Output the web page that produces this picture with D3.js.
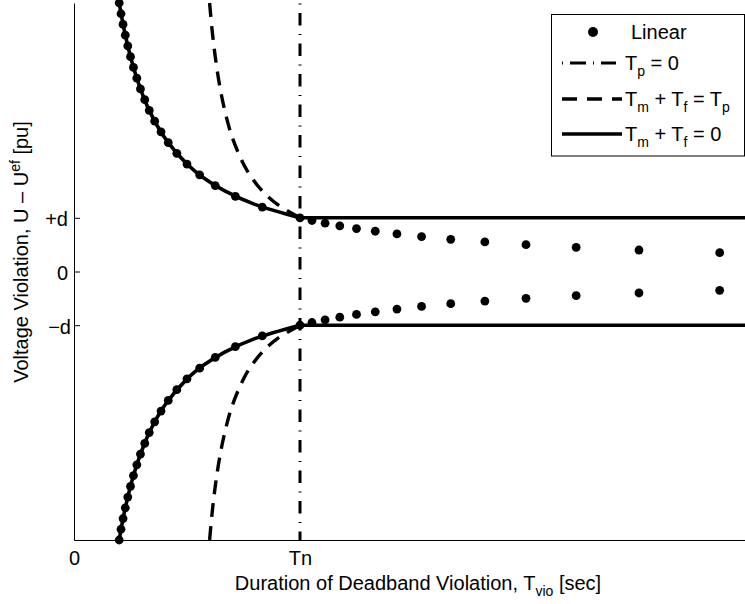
<!DOCTYPE html>
<html>
<head>
<meta charset="utf-8">
<script src="https://cdn.jsdelivr.net/npm/d3@7"></script>
<style>
  html, body { margin: 0; padding: 0; background: #fff; }
  svg { display: block; font-family: "Liberation Sans", Arial, Helvetica, sans-serif; }
</style>
</head>
<body>
<svg id="chart" width="745" height="604"></svg>
<script>
// x in units of Tn, y in units of the deadband d

// Linear response (dots)
const linearX = [0.200, 0.208, 0.217, 0.227, 0.238, 0.250, 0.263, 0.278, 0.294, 0.313,
                 0.333, 0.357, 0.385, 0.417, 0.455, 0.500, 0.556, 0.625, 0.714, 0.833,
                 1.000, 1.053, 1.111, 1.176, 1.250, 1.333, 1.429, 1.538, 1.667, 1.818,
                 2.000, 2.222, 2.500, 2.857];
const linearUpperY = [5.0, 4.8, 4.6, 4.4, 4.2, 4.0, 3.8, 3.6, 3.4, 3.2,
                      3.0, 2.8, 2.6, 2.4, 2.2, 2.0, 1.8, 1.6, 1.4, 1.2,
                      1.0, 0.95, 0.90, 0.85, 0.80, 0.75, 0.70, 0.65, 0.60, 0.55,
                      0.50, 0.45, 0.40, 0.35];
const linearLowerY = [-5.0, -4.8, -4.6, -4.4, -4.2, -4.0, -3.8, -3.6, -3.4, -3.2,
                      -3.0, -2.8, -2.6, -2.4, -2.2, -2.0, -1.8, -1.6, -1.4, -1.2,
                      -1.0, -0.95, -0.90, -0.85, -0.80, -0.75, -0.70, -0.65, -0.60, -0.55,
                      -0.50, -0.45, -0.40, -0.35];

// Tm + Tf = 0 : curved branch up to Tn, then level at +/- d
const solidX = [0.200, 0.222, 0.250, 0.286, 0.333, 0.400, 0.500, 0.571, 0.667, 0.800, 1.000];
const solidUpperY = [5.0, 4.5, 4.0, 3.5, 3.0, 2.5, 2.0, 1.75, 1.5, 1.25, 1.0];
const solidLowerY = [-5.0, -4.5, -4.0, -3.5, -3.0, -2.5, -2.0, -1.75, -1.5, -1.25, -1.0];
const levelX = [1.0, 3.0];
const levelUpperY = [1.0, 1.0];
const levelLowerY = [-1.0, -1.0];

// Tm + Tf = Tp
const dashedX = [0.600, 0.611, 0.625, 0.643, 0.667, 0.700, 0.750, 0.786, 0.833, 0.900, 1.000];
const dashedUpperY = [5.0, 4.5, 4.0, 3.5, 3.0, 2.5, 2.0, 1.75, 1.5, 1.25, 1.0];
const dashedLowerY = [-5.0, -4.5, -4.0, -3.5, -3.0, -2.5, -2.0, -1.75, -1.5, -1.25, -1.0];

// Tp = 0 : vertical at Tn
const tpZeroX = [1.0, 1.0];
const tpZeroY = [-5.0, 5.0];

// Axis ticks
const xTickValues = [0, 1];
const xTickLabels = ["0", "Tn"];
const yTickValues = [1, 0, -1];
const yTickLabels = ["+d", "0", "\u2212d"];

// Legend entries; "_{..}" is a subscript, "^{..}" a superscript
const legendLabels = ["Linear", "T_{p} = 0", "T_{m} + T_{f} = T_{p}", "T_{m} + T_{f} = 0"];
const legendStyles = ["dot", "dashdot", "dash", "solid"];

const FONT = 20;
const SUB = 14;
const svg = d3.select("#chart");

const x = d3.scaleLinear().domain([0, 3]).range([74, 752]);
const y = d3.scaleLinear().domain([-5, 5]).range([540, 3]);

const styles = {
  solid:   { width: 3.6, dash: null },
  dash:    { width: 3.4, dash: "14,9" },
  dashdot: { width: 3.0, dash: "12.5,8.5,1,8.5" }
};

const line = d3.line().x(d => x(d[0])).y(d => y(d[1]));
const smooth = d3.line().x(d => x(d[0])).y(d => y(d[1])).curve(d3.curveCatmullRom.alpha(0.5));
const zip = (a, b) => a.map((v, i) => [v, b[i]]);

const plot = svg.append("g");

function drawPath(gen, pts, style) {
  const s = styles[style];
  const p = plot.append("path")
    .attr("d", gen(pts))
    .attr("fill", "none")
    .attr("stroke", "#000")
    .attr("stroke-width", s.width)
    .attr("stroke-linejoin", "round");
  if (s.dash) p.attr("stroke-dasharray", s.dash);
  return p;
}

// Tp = 0
drawPath(line, zip(tpZeroX, tpZeroY), "dashdot").attr("stroke-dashoffset", 4);

// Tm + Tf = Tp
drawPath(smooth, zip(dashedX, dashedUpperY), "dash");
drawPath(smooth, zip(dashedX, dashedLowerY), "dash");

// Tm + Tf = 0
drawPath(smooth, zip(solidX, solidUpperY), "solid");
drawPath(smooth, zip(solidX, solidLowerY), "solid");
drawPath(line, zip(levelX, levelUpperY), "solid");
drawPath(line, zip(levelX, levelLowerY), "solid");

// Linear dots
const dots = zip(linearX, linearUpperY).concat(zip(linearX, linearLowerY));
plot.selectAll("circle.lin").data(dots).enter().append("circle")
  .attr("class", "lin")
  .attr("cx", d => x(d[0]))
  .attr("cy", d => y(d[1]))
  .attr("r", 4.4)
  .attr("fill", "#000");

// Axes
const yAxis = d3.axisLeft(y)
  .tickValues(yTickValues)
  .tickFormat((d, i) => yTickLabels[i])
  .tickSizeInner(-6).tickSizeOuter(0).tickPadding(6);
const gy = svg.append("g").attr("transform", "translate(74,0)").call(yAxis);

const xAxis = d3.axisBottom(x)
  .tickValues(xTickValues)
  .tickFormat((d, i) => xTickLabels[i])
  .tickSizeInner(-6).tickSizeOuter(0).tickPadding(11);
const gx = svg.append("g").attr("transform", "translate(0,540)").call(xAxis);

[gx, gy].forEach(g => {
  g.select(".domain").attr("stroke", "#000").attr("stroke-width", 1);
  g.selectAll(".tick line").attr("stroke", "#000").attr("stroke-width", 1);
  g.selectAll(".tick text")
    .attr("fill", "#000")
    .attr("font-size", FONT)
    .attr("font-family", "Liberation Sans, Arial, sans-serif");
});
gy.selectAll(".tick text").attr("dy", "0.4em");
gy.selectAll(".tick text").filter(d => d < 0).attr("dx", 3);

// Rich text: "_{..}" lowered and smaller, "^{..}" raised and smaller
function richText(sel, str) {
  const re = /_\{([^}]*)\}|\^\{([^}]*)\}/g;
  const parts = [];
  let last = 0, m;
  while ((m = re.exec(str)) !== null) {
    if (m.index > last) parts.push({ t: str.slice(last, m.index), shift: 0 });
    if (m[1] !== undefined) parts.push({ t: m[1], shift: 6 });
    else parts.push({ t: m[2], shift: -8 });
    last = re.lastIndex;
  }
  if (last < str.length) parts.push({ t: str.slice(last), shift: 0 });
  let cur = 0;
  parts.forEach(p => {
    const ts = sel.append("tspan").text(p.t);
    if (p.shift !== cur) ts.attr("dy", p.shift - cur);
    if (p.shift !== 0) ts.attr("font-size", SUB);
    cur = p.shift;
  });
}

// Axis titles
const xTitle = svg.append("text")
  .attr("x", 418).attr("y", 590)
  .attr("text-anchor", "middle")
  .attr("font-size", FONT).attr("fill", "#000");
richText(xTitle, "Duration of Deadband Violation, T_{vio} [sec]");

const yTitle = svg.append("text")
  .attr("transform", "translate(27.5,252) rotate(-90)")
  .attr("text-anchor", "middle")
  .attr("font-size", FONT).attr("fill", "#000");
richText(yTitle, "Voltage Violation, U \u2013 U^{ef} [pu]");

// Legend
const legend = svg.append("g");
legend.append("rect")
  .attr("x", 551.5).attr("y", 14.5).attr("width", 193).attr("height", 141.5)
  .attr("fill", "#fff").attr("stroke", "#000").attr("stroke-width", 1);
const rowY = [32, 63, 99, 134];
legendLabels.forEach((lab, i) => {
  const cy = rowY[i];
  const st = legendStyles[i];
  if (st === "dot") {
    legend.append("circle").attr("cx", 593).attr("cy", cy).attr("r", 5).attr("fill", "#000");
  } else {
    const s = styles[st];
    const l = legend.append("line")
      .attr("x1", 562).attr("x2", st === "dashdot" ? 616 : 622)
      .attr("y1", cy).attr("y2", cy)
      .attr("stroke", "#000").attr("stroke-width", s.width);
    if (st === "dash") l.attr("stroke-dasharray", "15,10");
    if (st === "dashdot") l.attr("stroke-dasharray", "1,7,16,7");
  }
  const t = legend.append("text")
    .attr("x", i === 0 ? 631 : 625)
    .attr("y", cy + 7)
    .attr("font-size", FONT).attr("fill", "#000");
  richText(t, lab);
});
</script>
</body>
</html>
